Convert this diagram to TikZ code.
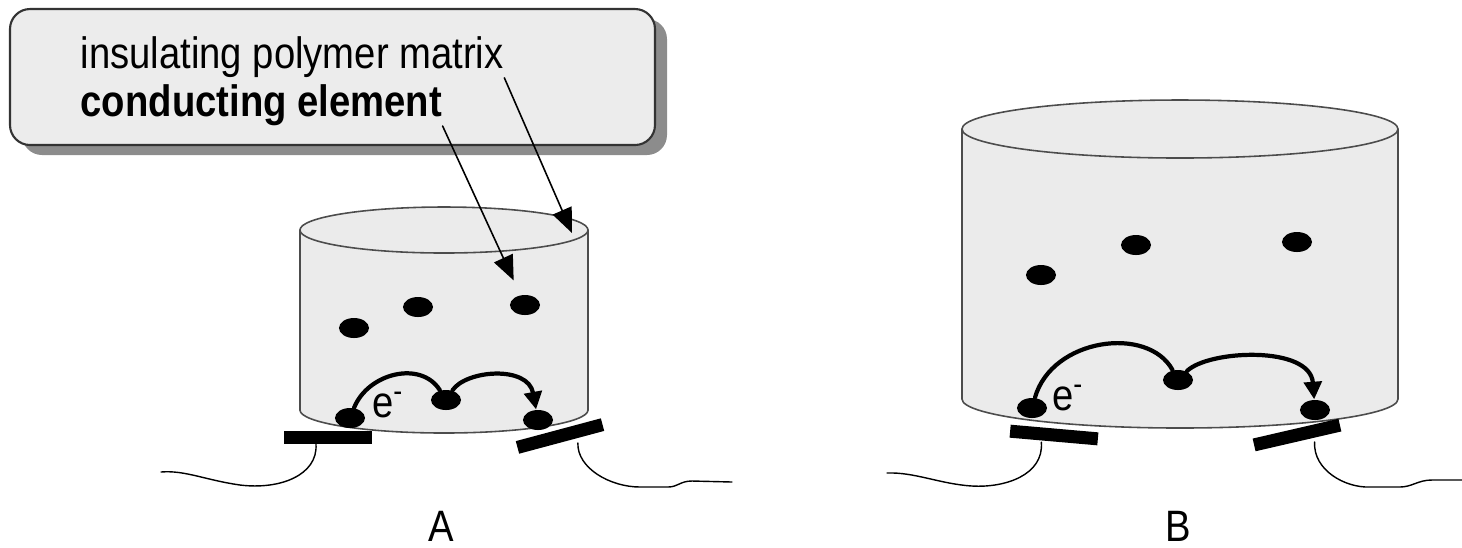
\documentclass[tikz,border=0pt]{standalone}
\usepackage{fontspec}
\setmainfont{Liberation Sans}[FakeStretch=0.87]
\usetikzlibrary{shapes.geometric,arrows.meta}

% drum: centre x, top y, bottom y, x radius, y radius
\newcommand{\drum}[5]{%
  \fill[gray!16] (#1,#3) ellipse (#4 and #5);
  \fill[gray!16] (#1-#4,#2) rectangle (#1+#4,#3);
  \draw[rim] (#1-#4,#2) -- (#1-#4,#3) (#1+#4,#2) -- (#1+#4,#3);
  \begin{scope}
    \clip (#1-#4-5,#3) rectangle (#1+#4+5,#3+#5+5);
    \draw[rim] (#1,#3) ellipse (#4 and #5);
  \end{scope}
  \draw[rim, fill=gray!16] (#1,#2) ellipse (#4 and #5);
}

\begin{document}
\begin{tikzpicture}[x=0.01cm, y=-0.01cm, line join=round, line cap=round,
    font=\fontsize{12.5}{15}\selectfont,
    rim/.style={draw=black!70, line width=0.45pt},
    grain/.style={ellipse, fill=black, inner sep=0pt, minimum width=0.3cm, minimum height=0.2cm},
    pad/.style={rectangle, fill=black, inner sep=0pt, minimum width=0.88cm, minimum height=0.13cm},
    hop/.style={line width=1.2pt, -{Triangle[length=5pt,width=5pt]}},
    leader/.style={line width=0.45pt, -{Triangle[length=7pt,width=5.8pt]}},
    wire/.style={line width=0.4pt}]
  \useasboundingbox (0,0) rectangle (1462,547);

  % legend with drop shadow
  \fill[black!45, rounded corners=0.2cm] (22,19) rectangle (667,155);
  \draw[fill=gray!15, draw=black!80, line width=0.6pt, rounded corners=0.2cm] (10,9) rectangle (655,145);
  \node[anchor=base west, inner sep=0pt] (matrixlbl) at (80,68) {insulating polymer matrix};
  \node[anchor=base west, inner sep=0pt] (elemlbl) at (80,116) {\bfseries conducting element};

  % A: small sample
  \drum{444}{230}{410}{144}{23}
  \coordinate (rimA) at (572,233);
  \node[grain] (gA1) at (354,328) {};
  \node[grain] (gA2) at (418,307) {};
  \node[grain] (gA3) at (525,305) {};
  \node[grain] (hA1) at (350,418) {};
  \node[grain] (hA2) at (446,400) {};
  \node[grain] (hA3) at (538,420) {};
  \draw[hop] (hA1) .. controls +(18,-45) and +(-25,-40) .. (hA2)
    .. controls +(20,-30) and +(-10,-55) .. (hA3);
  \node (eA) at (388,405) {e\textsuperscript{-}};
  \node[pad] (padA1) at (328,437) {};
  \node[pad, rotate=15] (padA2) at (560,436) {};
  \draw[wire] ([xshift=-0.12cm]padA1.south) .. controls (318,475) and (280,490) .. (240,485)
    .. controls (205,480) and (185,470) .. (161,472);
  \draw[wire] ([xshift=0.16cm]padA2.south) .. controls (577,468) and (610,487) .. (640,487)
    -- (668,487) .. controls (678,487) and (680,481) .. (692,481) -- (732,482);
  \draw[leader] (matrixlbl.south east) -- (rimA);
  \draw[leader, shorten >=4.5pt] (elemlbl.south east) -- (gA3);
  \node[anchor=base, inner sep=0pt] (lblA) at (441,541) {A};

  % B: large sample
  \drum{1180}{129}{399}{218}{29}
  \node[grain] (gB1) at (1041,275) {};
  \node[grain] (gB2) at (1136,245) {};
  \node[grain] (gB3) at (1297,242) {};
  \node[grain] (hB1) at (1032,408) {};
  \node[grain] (hB2) at (1178,380) {};
  \node[grain] (hB3) at (1315,410) {};
  \draw[hop] (hB1) .. controls +(20,-70) and +(-30,-55) .. (hB2)
    .. controls +(30,-30) and +(-5,-65) .. (hB3);
  \node (eB) at (1068,398) {e\textsuperscript{-}};
  \node[pad, rotate=-5] (padB1) at (1054,435) {};
  \node[pad, rotate=13] (padB2) at (1297,435) {};
  \draw[wire] ([xshift=-0.12cm]padB1.south) .. controls (1044,475) and (1005,488) .. (972,486)
    .. controls (940,484) and (915,472) .. (887,473);
  \draw[wire] ([xshift=0.16cm]padB2.south) .. controls (1313,470) and (1345,488) .. (1370,487)
    -- (1400,487) .. controls (1412,487) and (1418,480) .. (1432,480) -- (1462,480);
  \node[anchor=base, inner sep=0pt] (lblB) at (1178,541) {B};
\end{tikzpicture}
\end{document}
